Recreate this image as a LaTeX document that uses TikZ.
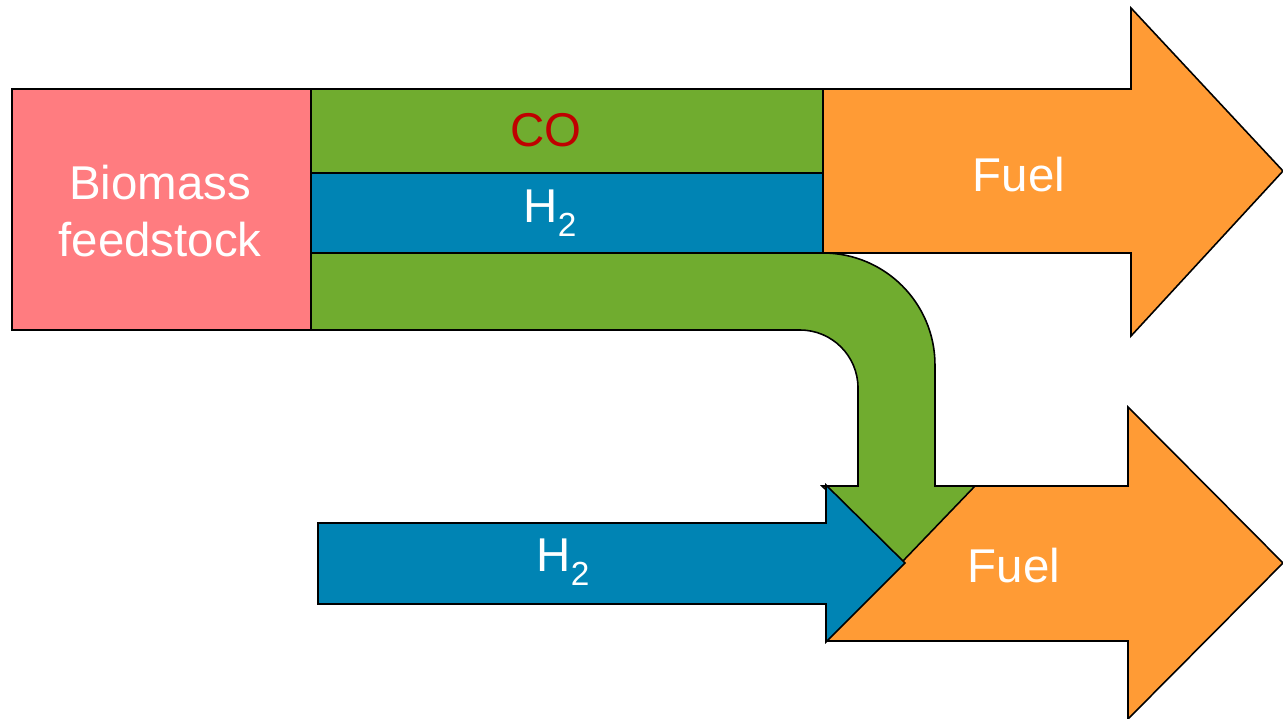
\documentclass[tikz,border=0pt]{standalone}
\usepackage{fontspec}
\setmainfont{Liberation Sans}
\definecolor{salmon}{HTML}{FF7C80}
\definecolor{lgreen}{HTML}{70AC2F}
\definecolor{sblue}{HTML}{0084B4}
\definecolor{orng}{HTML}{FF9B35}
\definecolor{cored}{HTML}{C00000}
\newcommand{\Htwo}{H\raisebox{-8pt}{\fontsize{19}{19}\selectfont 2}}
\tikzset{
  shp/.style={draw=black, line width=0.9pt, line join=miter},
  lbl/.style={text=white, font=\fontsize{27}{32}\selectfont, align=center, inner sep=0pt},
}
\begin{document}
\begin{tikzpicture}[x=0.02cm,y=-0.02cm]
\useasboundingbox (0,0) rectangle (1283,719);
% bottom fuel arrow
\draw[shp, fill=orng] (826,486) -- (1128,486) -- (1128,407) -- (1283,563) -- (1128,719) -- (1128,641) -- (826,641) -- cycle;
% biomass box
\draw[shp, fill=salmon] (12,89) rectangle (311,330);
% CO bar
\draw[shp, fill=lgreen] (311,89) rectangle (823,173);
% H2 bar
\draw[shp, fill=sblue] (311,173) rectangle (823,253);
% top fuel arrow
\draw[shp, fill=orng] (823,89) -- (1131,89) -- (1131,8) -- (1283,171) -- (1131,336) -- (1131,253) -- (823,253) -- cycle;
% green bend arrow
\draw[shp, fill=lgreen] (311,253) -- (823,253) arc[start angle=90, end angle=0, radius=2.24cm] -- (935,486) -- (975,486) -- (902,562) -- (822,486) -- (858,486) -- (858,388) arc[start angle=0, end angle=90, radius=1.16cm] -- (311,330) -- cycle;
% bottom H2 arrow
\draw[shp, fill=sblue] (318,523) -- (826,523) -- (826,485) -- (905,563) -- (826,642) -- (826,604) -- (318,604) -- cycle;
% labels
\node[lbl] (bio) at (160,211) {Biomass\\feedstock};
\node[lbl, text=cored] (co) at (546,130) {CO};
\node[lbl] (h2a) at (550,213) {\Htwo};
\node[lbl] (fuel1) at (1019,175) {Fuel};
\node[lbl] (h2b) at (563,562) {\Htwo};
\node[lbl] (fuel2) at (1014,566) {Fuel};
\end{tikzpicture}
\end{document}
